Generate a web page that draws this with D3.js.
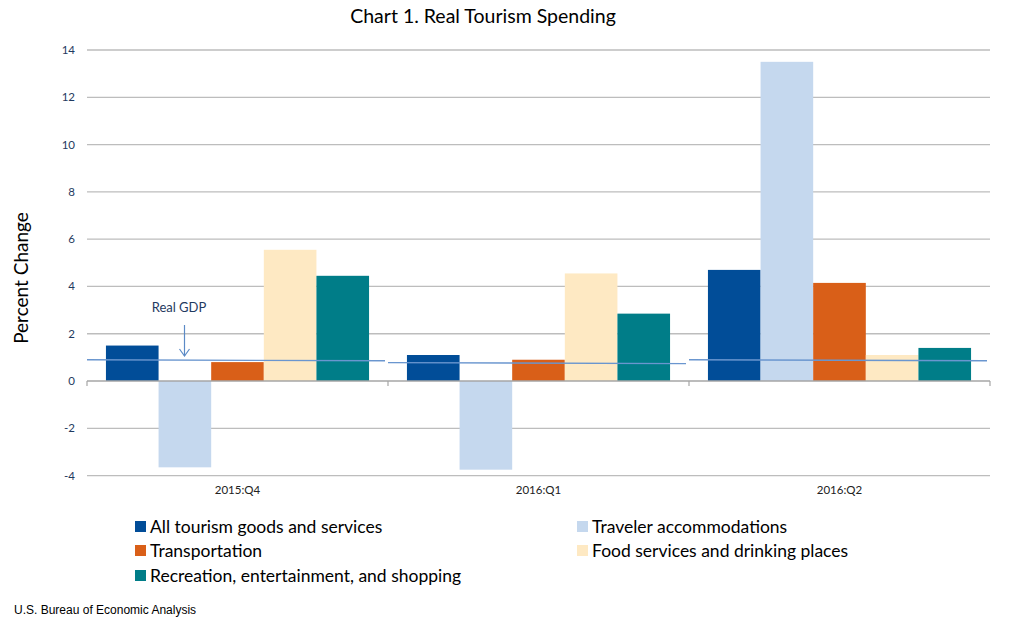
<!DOCTYPE html>
<html><head><meta charset="utf-8">
<script src="https://cdn.jsdelivr.net/npm/d3@7"></script>
<style>body{margin:0;background:#fff}svg{display:block}</style>
</head><body>
<script>
const categories = ["2015:Q4", "2016:Q1", "2016:Q2"];
const seriesNames = ["All tourism goods and services", "Traveler accommodations", "Transportation", "Food services and drinking places", "Recreation, entertainment, and shopping"];
const allTourism = [1.5, 1.1, 4.7];
const travelerAccommodations = [-3.65, -3.75, 13.5];
const transportation = [0.8, 0.9, 4.15];
const foodServices = [5.55, 4.55, 1.1];
const recreation = [4.45, 2.85, 1.4];
const realGDP = [0.9, 0.78, 0.9];
const yTicks = [-4, -2, 0, 2, 4, 6, 8, 10, 12, 14];
const colors = ["#014d98", "#c5d8ee", "#d95f18", "#fee9c3", "#007d88"];

const series = [allTourism, travelerAccommodations, transportation, foodServices, recreation];
const W = 1009, H = 627;
const svg = d3.select("body").append("svg").attr("width", W).attr("height", H);
const font = "Lato, 'Open Sans', sans-serif";

const x0 = d3.scaleBand().domain(categories).range([87, 990]).paddingInner(0).paddingOuter(0);
const x1 = d3.scaleBand().domain(d3.range(series.length)).range([0, x0.bandwidth()]).paddingOuter(0.36).paddingInner(0);
const y = d3.scaleLinear().domain([-4, 14]).range([475.6, 50]);

// gridlines
svg.append("g").selectAll("line").data(yTicks.filter(d => d !== 0)).join("line")
  .attr("x1", 87).attr("x2", 990).attr("y1", d => y(d)).attr("y2", d => y(d))
  .attr("stroke", "#bdbdbd").attr("stroke-width", 1.3);

// y tick labels
svg.append("g").selectAll("text").data(yTicks).join("text")
  .attr("x", 75).attr("y", d => y(d)).attr("dy", "0.35em").attr("text-anchor", "end")
  .attr("font-family", font).attr("font-size", 11.5).attr("fill", "#1f3a60").text(d => d);

// bars
const groups = svg.append("g").selectAll("g").data(categories).join("g")
  .attr("transform", c => `translate(${x0(c)},0)`);
groups.selectAll("rect").data((c, i) => series.map((s, k) => ({k, v: s[i]}))).join("rect")
  .attr("x", d => x1(d.k)).attr("width", x1.bandwidth())
  .attr("y", d => y(Math.max(0, d.v))).attr("height", d => Math.abs(y(d.v) - y(0)))
  .attr("fill", d => colors[d.k]);

// zero axis
svg.append("line").attr("x1", 87).attr("x2", 990).attr("y1", y(0)).attr("y2", y(0))
  .attr("stroke", "#a6a6a6").attr("stroke-width", 1.3);
const bounds = categories.map(c => x0(c)).concat([x0.range()[1]]);
svg.append("g").selectAll("line").data(bounds).join("line")
  .attr("x1", d => d).attr("x2", d => d).attr("y1", y(0)).attr("y2", y(0) + 5)
  .attr("stroke", "#a6a6a6").attr("stroke-width", 1.2);

// Real GDP segments
svg.append("g").selectAll("line").data(categories).join("line")
  .attr("x1", c => x0(c) + 0).attr("x2", c => x0(c) + x0.bandwidth() - 3)
  .attr("y1", (c, i) => y(realGDP[i])).attr("y2", (c, i) => y(realGDP[i]) + 1)
  .attr("stroke", "#6a96cf").attr("stroke-width", 1.3);

// annotation
svg.append("text").attr("x", 179).attr("y", 312).attr("text-anchor", "middle")
  .attr("font-family", font).attr("font-size", 13).attr("fill", "#1f3a60").text("Real GDP");
const ax = 184.5;
svg.append("line").attr("x1", ax).attr("x2", ax).attr("y1", 325).attr("y2", 356)
  .attr("stroke", "#5b8ac6").attr("stroke-width", 1.2);
svg.append("path").attr("d", `M${ax-5},${349} L${ax},${356} L${ax+5},${349}`)
  .attr("fill", "none").attr("stroke", "#5b8ac6").attr("stroke-width", 1.2);

// x labels
svg.append("g").selectAll("text").data(categories).join("text")
  .attr("x", c => x0(c) + x0.bandwidth() / 2).attr("y", 494).attr("text-anchor", "middle")
  .attr("font-family", font).attr("font-size", 11.5).attr("fill", "#222").text(c => c);

// title
svg.append("text").attr("x", 483).attr("y", 23).attr("text-anchor", "middle")
  .attr("font-family", font).attr("font-size", 19.5).attr("fill", "#000").text("Chart 1. Real Tourism Spending");

// y title
svg.append("text").attr("transform", "translate(28,278) rotate(-90)").attr("text-anchor", "middle")
  .attr("font-family", font).attr("font-size", 19).attr("fill", "#000").text("Percent Change");

// legend
const legendPos = [[135, 527], [577, 527], [135, 551], [577, 551], [135, 576]];
const lg = svg.append("g").selectAll("g").data(seriesNames).join("g")
  .attr("transform", (d, i) => `translate(${legendPos[i][0]},${legendPos[i][1]})`);
lg.append("rect").attr("x", 0).attr("y", -6).attr("width", 11).attr("height", 11).attr("fill", (d, i) => colors[i]);
lg.append("text").attr("x", 15).attr("y", 0).attr("dy", "0.35em")
  .attr("font-family", font).attr("font-size", 17.5).attr("fill", "#000").text(d => d);

// footer
svg.append("text").attr("x", 14).attr("y", 614).attr("font-family", "'Liberation Sans', Arial, sans-serif")
  .attr("font-size", 12).attr("fill", "#000").text("U.S. Bureau  of Economic Analysis");
</script>
</body></html>
